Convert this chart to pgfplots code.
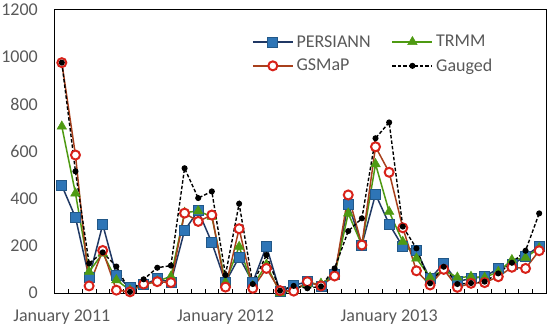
\documentclass[border=0pt]{standalone}
\usepackage{pgfplots}
\pgfplotsset{compat=1.18}
\usepackage{pgfplotstable}
\usepackage{fontspec}
\setmainfont{Carlito}
\usetikzlibrary{calc}
\definecolor{tickgray}{HTML}{595959}
\definecolor{persline}{HTML}{203864}
\definecolor{persfill}{HTML}{2E75B6}
\definecolor{trmmgreen}{HTML}{4E9A12}
\definecolor{gsline}{HTML}{A8401C}
\definecolor{gsmark}{HTML}{D8221A}

\pgfplotstableread{
m P T G O
0 455 705 975 975
1 320 422 584 515
2 65 90 30 125
3 290 168 180 172
4 75 55 12 112
5 22 12 5 5
6 35 35 38 58
7 60 50 48 107
8 45 70 44 116
9 265 340 338 528
10 348 347 303 402
11 213 323 330 430
12 45 45 25 76
13 152 196 272 378
14 45 30 20 38
15 198 120 104 161
16 5 0 10 10
17 32 12 8 30
18 48 40 48 20
19 30 40 30 28
20 80 75 72 104
21 375 337 415 262
22 203 203 203 316
23 418 546 619 655
24 292 344 511 722
25 196 217 276 281
26 179 147 94 189
27 60 66 34 41
28 125 97 100 111
29 48 66 24 38
30 62 69 41 42
31 69 65 44 48
32 104 90 69 83
33 119 140 109 128
34 157 150 104 179
35 198 190 179 337
}\datatab

\begin{document}
\begin{tikzpicture}
\begin{axis}[
  scale only axis, width=491bp, height=283.5bp,
  xmin=-0.5, xmax=35.5, ymin=0, ymax=1200,
  ytick={0,200,...,1200},
  xtick={0,12,24},
  xticklabels={January 2011, January 2012, January 2013},
  minor xtick={0.5,1.5,...,34.5},
  xtick pos=bottom, ytick pos=left,
  major x tick style={draw=none},
  ytick style={draw=none},
  minor tick length=4bp,
  minor x tick style={black, line width=0.8bp},
  axis line style={black, line width=1bp},
  /pgf/number format/assume math mode=true,
  /pgf/number format/1000 sep={},
  scaled y ticks=false,
  tick label style={font=\fontsize{18bp}{21bp}\selectfont, text=tickgray},
  yticklabel style={anchor=east, inner sep=0pt, xshift=-17bp},
  xticklabel style={anchor=base, inner sep=0pt, yshift=-28.6bp},
  legend columns=2,
  legend cell align=left,
  legend style={at={(rel axis cs:0.401,0.913)}, anchor=north west, draw=none, fill=none,
    font=\fontsize{18bp}{21bp}\selectfont, text=tickgray, inner sep=0pt,
    row sep=8.3bp,
    nodes={inner xsep=3bp, inner ysep=1bp},
    /tikz/every even column/.append style={column sep=18bp}},
  legend image code/.code={\draw[mark repeat=2,mark phase=2] plot coordinates {(0bp,0bp)(20bp,0bp)(40bp,0bp)};},
]
\addplot[color=persline, line width=1.5bp, mark=square*, mark size=5bp,
  mark options={fill=persfill, draw=persfill!75!black, line width=0.8bp}]
  table[x=m, y=P] {\datatab};
\addlegendentry{PERSIANN}
\addplot[color=trmmgreen, line width=1.5bp, mark=triangle*, mark size=5.5bp,
  mark options={fill=trmmgreen, draw=trmmgreen, line width=0.5bp}]
  table[x=m, y=T] {\datatab};
\addlegendentry{TRMM}
\addplot[color=gsline, line width=1.5bp, mark=*, mark size=4.5bp,
  mark options={fill=white, draw=gsmark, line width=2bp}]
  table[x=m, y=G] {\datatab};
\addlegendentry{GSMaP}
\addplot[color=black, line width=1.4bp, dash pattern=on 3.5bp off 2bp, mark=*, mark size=2.3bp,
  mark options={solid, fill=black}]
  table[x=m, y=O] {\datatab};
\addlegendentry{Gauged}
\end{axis}
\pgfresetboundingbox
\path[use as bounding box] ($(current axis.south west)+(-55bp,-35bp)$) rectangle ($(current axis.north east)+(4bp,9.5bp)$);
\end{tikzpicture}
\end{document}
